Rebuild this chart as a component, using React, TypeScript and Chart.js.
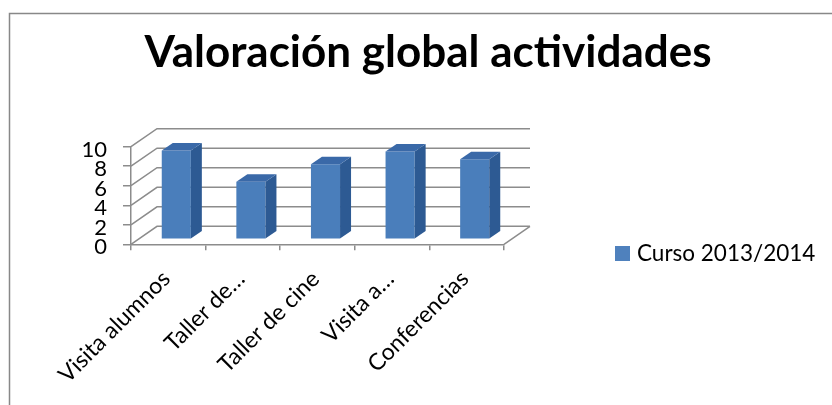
import React, { useEffect, useRef } from "react";
import { Chart, registerables } from "chart.js";

Chart.register(...registerables);

// ---- data ----
const chartTitle = "Valoración global actividades";
const categories = ["Visita alumnos", "Taller de…", "Taller de cine", "Visita a…", "Conferencias"];
const seriesLabel = "Curso 2013/2014";
const seriesValues = [9.1, 5.9, 7.7, 9.0, 8.2];
const yMin = 0;
const yMax = 10;
const yStep = 2;

// ---- style ----
const FONT = "Lato, 'Open Sans', sans-serif";
const GRID = "#8c8c8c";
const FRONT = "#4a7ebb";
const SIDE = "#2d5a93";
const TOP = "#3a69a8";
const LEGEND_SWATCH = "#4f81bd";
const WALL_DEPTH = { x: 26, y: -18 };
const BAR_SHIFT = { x: 8, y: -5 };
const BAR_DEPTH = { x: 11, y: -7.5 };

const threeD = {
  id: "threeD",
  beforeDraw(chart: any) {
    const { ctx } = chart;
    ctx.save();
    ctx.strokeStyle = "#888888";
    ctx.lineWidth = 1.5;
    ctx.beginPath();
    ctx.moveTo(9.5, 405);
    ctx.lineTo(9.5, 13.5);
    ctx.lineTo(832, 13.5);
    ctx.stroke();
    ctx.restore();
  },
  beforeDatasetsDraw(chart: any) {
    const { ctx, chartArea: a, scales } = chart;
    const ys = scales.y;
    ctx.save();
    ctx.strokeStyle = GRID;
    ctx.lineWidth = 1.5;
    ctx.beginPath();
    ys.ticks.forEach((t: any) => {
      const py = ys.getPixelForValue(t.value);
      ctx.moveTo(a.left, py);
      ctx.lineTo(a.left + WALL_DEPTH.x, py + WALL_DEPTH.y);
      ctx.lineTo(a.right + WALL_DEPTH.x, py + WALL_DEPTH.y);
    });
    ctx.moveTo(a.right, a.bottom);
    ctx.lineTo(a.right + WALL_DEPTH.x, a.bottom + WALL_DEPTH.y);
    ctx.stroke();
    ctx.restore();
    ctx.save();
    ctx.translate(BAR_SHIFT.x, BAR_SHIFT.y);
  },
  afterDatasetsDraw(chart: any) {
    const { ctx } = chart;
    const meta = chart.getDatasetMeta(0);
    meta.data.forEach((bar: any) => {
      const { x, y, base, width } = bar.getProps(["x", "y", "base", "width"], true);
      const l = x - width / 2;
      const r = x + width / 2;
      ctx.fillStyle = SIDE;
      ctx.beginPath();
      ctx.moveTo(r, y);
      ctx.lineTo(r + BAR_DEPTH.x, y + BAR_DEPTH.y);
      ctx.lineTo(r + BAR_DEPTH.x, base + BAR_DEPTH.y);
      ctx.lineTo(r, base);
      ctx.closePath();
      ctx.fill();
      ctx.fillStyle = TOP;
      ctx.beginPath();
      ctx.moveTo(l, y);
      ctx.lineTo(l + BAR_DEPTH.x, y + BAR_DEPTH.y);
      ctx.lineTo(r + BAR_DEPTH.x, y + BAR_DEPTH.y);
      ctx.lineTo(r, y);
      ctx.closePath();
      ctx.fill();
    });
    ctx.restore();
  },
  afterDraw(chart: any) {
    const { ctx } = chart;
    ctx.save();
    ctx.fillStyle = LEGEND_SWATCH;
    ctx.fillRect(615, 246, 15, 15);
    ctx.fillStyle = "#000";
    ctx.font = `22.5px ${FONT}`;
    ctx.textBaseline = "middle";
    ctx.textAlign = "left";
    ctx.fillText(chart.data.datasets[0].label, 637, 254);
    ctx.restore();
  },
};

export default function App() {
  const ref = useRef<HTMLCanvasElement | null>(null);
  useEffect(() => {
    if (!ref.current) return;
    const chart = new Chart(ref.current, {
      type: "bar",
      data: {
        labels: categories,
        datasets: [
          {
            label: seriesLabel,
            data: seriesValues,
            backgroundColor: FRONT,
            borderWidth: 0,
            categoryPercentage: 1,
            barPercentage: 0.39,
            clip: false as any,
          },
        ],
      },
      options: {
        responsive: false,
        animation: false,
        layout: { padding: { left: 24, right: 0, top: 0, bottom: 0 } },
        plugins: {
          legend: { display: false },
          tooltip: { enabled: false },
          title: {
            display: true,
            text: chartTitle,
            color: "#000",
            font: { family: FONT, weight: "bold", size: 44, lineHeight: 1.2 },
            padding: { top: 26.6, bottom: 67.3 },
          },
        },
        scales: {
          x: {
            grid: { display: true, drawOnChartArea: false, drawTicks: true, tickLength: 6, color: GRID, lineWidth: 1.5, offset: true },
            border: { display: true, color: GRID, width: 1.5 },
            ticks: { color: "#000", font: { family: FONT, size: 23 }, minRotation: 45, maxRotation: 45, autoSkip: false, padding: 15, labelOffset: -2 },
            afterFit: (s: any) => { s.height = 405 - 244.3; },
          },
          y: {
            min: yMin,
            max: yMax,
            grid: { display: true, drawOnChartArea: false, drawTicks: true, tickLength: 8, color: GRID, lineWidth: 1.5 },
            border: { display: true, color: GRID, width: 1.5 },
            ticks: { stepSize: yStep, autoSkip: false, color: "#000", font: { family: FONT, size: 22 }, padding: 16, labelOffset: 3 },
            afterFit: (s: any) => { s.width = 131 - 24; },
          },
          y2: {
            position: "right",
            display: true,
            grid: { display: false },
            border: { display: false },
            ticks: { display: false },
            afterFit: (s: any) => { s.width = 832 - 504; },
          },
        },
      },
      plugins: [threeD],
    } as any);
    return () => chart.destroy();
  }, []);
  return (
    <div style={{ position: "fixed", left: 0, top: 0, width: 832, height: 405, background: "#fff" }}>
      <canvas ref={ref} width={832} height={405} />
    </div>
  );
}
